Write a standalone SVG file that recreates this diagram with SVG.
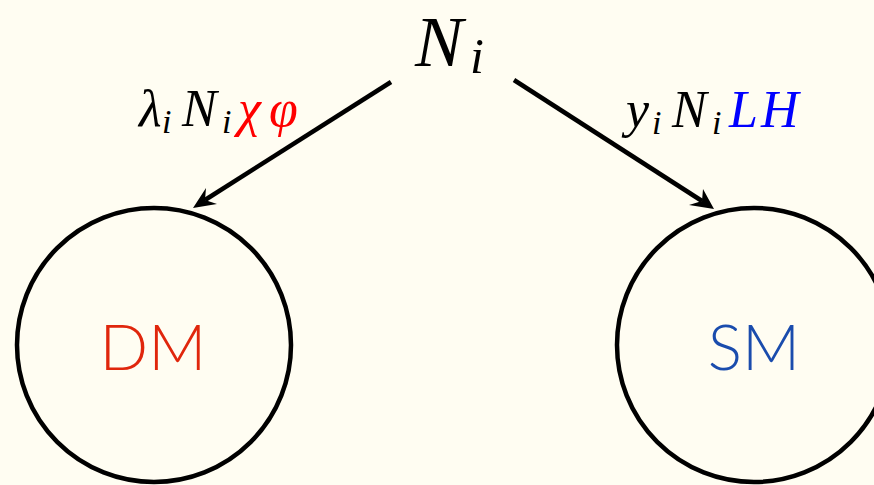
<svg xmlns="http://www.w3.org/2000/svg" width="874" height="485" viewBox="0 0 874 485">
<style>
.m{font-family:"Liberation Serif","DejaVu Serif",serif;font-style:italic;fill:#000}
.lbl{font-family:"Lato","Open Sans",sans-serif;font-weight:300}
.node{fill:none;stroke:#000;stroke-width:4.5}
.edge{stroke:#000;stroke-width:4.5;fill:none}
</style>
<rect width="874" height="485" fill="#fffdf2"/>
<g id="Ni"><text class="m" y="66" font-size="72"><tspan x="415">N</tspan><tspan x="470" y="73" font-size="50">i</tspan></text></g>
<g id="DM"><circle class="node" cx="154" cy="345" r="137"/><text class="lbl" x="153" y="370" font-size="64" text-anchor="middle" fill="#e0260c">DM</text></g>
<g id="SM"><circle class="node" cx="754" cy="345" r="137"/><text class="lbl" x="754" y="370" font-size="64" text-anchor="middle" fill="#1a4cad">SM</text></g>
<g id="connectors">
<line class="edge" x1="391" y1="82" x2="205" y2="200"/>
<path d="M193,208 L206,188 L205,200 L217,204 Z" fill="#000"/>
<line class="edge" x1="514" y1="80" x2="702" y2="201"/>
<path d="M714,209 L689,205 L702,201 L703,189 Z" fill="#000"/>
<text class="m" y="126" font-size="52"><tspan x="139">λ</tspan><tspan x="162" y="133" font-size="34">i</tspan><tspan x="182" y="126">N</tspan><tspan x="222" y="133" font-size="34">i</tspan><tspan x="238" y="126" fill="#ff0000">χ</tspan><tspan x="269" fill="#ff0000">φ</tspan></text>
<text class="m" y="127" font-size="52"><tspan x="626">y</tspan><tspan x="652" y="134" font-size="34">i</tspan><tspan x="672" y="127">N</tspan><tspan x="712" y="134" font-size="34">i</tspan><tspan x="729" y="127" fill="#0000ff">L</tspan><tspan x="761" fill="#0000ff">H</tspan></text>
</g>
</svg>
